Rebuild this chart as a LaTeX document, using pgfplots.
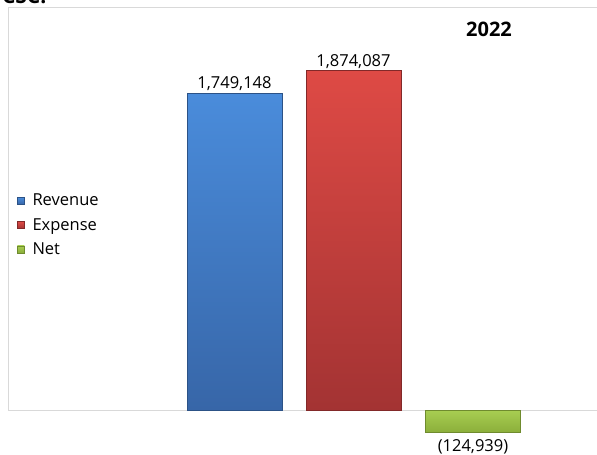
\documentclass[border=0pt]{standalone}
\usepackage{fontspec}
\setmainfont{Open Sans}
\usepackage{pgfplots}
\pgfplotsset{compat=1.18}
\definecolor{revtop}{HTML}{4A8CDB}
\definecolor{revbot}{HTML}{3766A8}
\definecolor{exptop}{HTML}{DE4A45}
\definecolor{expbot}{HTML}{A33333}
\definecolor{nettop}{HTML}{A8CE52}
\definecolor{netbot}{HTML}{8BAE3A}
\definecolor{frame}{HTML}{D9D9D9}
\begin{document}
\begin{tikzpicture}
\begin{axis}[
  at={(8bp,45bp)}, anchor=south west,
  scale only axis, width=597bp, height=403bp,
  xmin=0, xmax=597, ymin=0, ymax=2225000,
  xtick=\empty, ytick=\empty,
  clip=false,
  axis line style={draw=frame, line width=0.9bp},
  ybar, bar width=95bp, bar shift=0pt,
  point meta=explicit symbolic,
  nodes near coords,
  every node near coord/.append style={font=\fontsize{16.5bp}{19bp}\selectfont, text=black, inner sep=2bp},
  legend style={draw=none, fill=none, at={(0.015,0.459)}, anchor=west,
    font=\fontsize{16.5bp}{19bp}\selectfont, row sep=7bp, inner xsep=0pt, inner ysep=0pt},
  legend cell align=left,
  legend image code/.code={\fill[#1] (0bp,-3.5bp) rectangle (7bp,3.5bp); \path (13bp,0bp);},
]
\addplot[top color=revtop, bottom color=revbot, draw=revbot!80!black, line width=0.4bp]
  table[x=x, y=y, meta=label] {
x y label
226.5 1749148 1,749,148
};
\addlegendentry{Revenue}
\addplot[top color=exptop, bottom color=expbot, draw=expbot!80!black, line width=0.4bp]
  table[x=x, y=y, meta=label] {
x y label
345.5 1874087 1,874,087
};
\addlegendentry{Expense}
\addplot[top color=nettop, bottom color=netbot, draw=netbot!80!black, line width=0.4bp,
  every node near coord/.append style={anchor=north, yshift=-5bp}]
  table[x=x, y=y, meta=label] {
x y label
465 -124939 (124,939)
};
\addlegendentry{Net}
\end{axis}
\node[font=\bfseries\fontsize{20bp}{24bp}\selectfont, anchor=base] at (489bp,418bp) {2022};
\node[font=\bfseries\fontsize{21bp}{25bp}\selectfont, anchor=base west] at (-1.5bp,451bp) {CSC.};
\pgfresetboundingbox
\path[use as bounding box] (0,0) rectangle (597bp,455bp);
\end{tikzpicture}
\end{document}
